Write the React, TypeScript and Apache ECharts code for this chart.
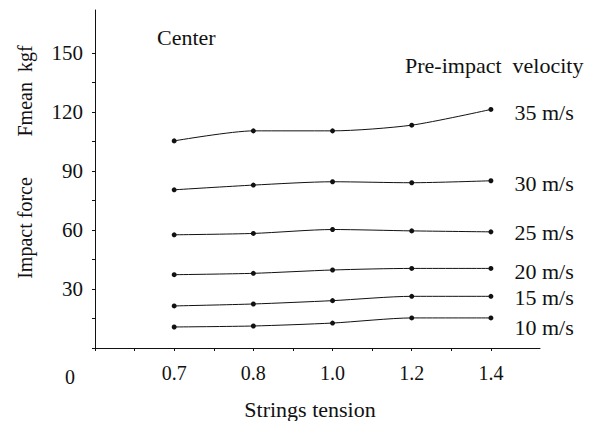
import React, { useEffect, useRef } from "react";
import * as echarts from "echarts";

const tensions = ["0.7", "0.8", "1.0", "1.2", "1.4"];
const velocities = ["35 m/s", "30 m/s", "25 m/s", "20 m/s", "15 m/s", "10 m/s"];
const v35 = [105.4, 110.5, 110.5, 113.4, 121.4];
const v30 = [80.5, 82.9, 84.6, 84.1, 85.1];
const v25 = [57.6, 58.3, 60.3, 59.6, 59.1];
const v20 = [37.3, 38.0, 39.7, 40.5, 40.5];
const v15 = [21.4, 22.4, 24.1, 26.3, 26.3];
const v10 = [10.7, 11.2, 12.7, 15.3, 15.3];
const seriesValues = [v35, v30, v25, v20, v15, v10];
const labelDy = [3, 3, 1, 3, 1, 10];
const yTicks = [0, 15, 30, 45, 60, 75, 90, 105, 120, 135, 150];
const yLabels = [30, 60, 90, 120, 150];

const FONT = "Liberation Serif";
const INK = "#111";

export default function App() {
  const ref = useRef<HTMLDivElement>(null);
  useEffect(() => {
    if (!ref.current) return;
    const chart = echarts.init(ref.current, undefined, { renderer: "svg" });
    const pos = (i: number) => (i + 1) * 2;
    const xTickVals = [0, 1, 2, 3, 4, 5, 6, 7, 8, 9, 10];
    const xLabelVals = [0, ...tensions.map((_, i) => pos(i))];
    const txt = (extra: any, size = 22) => ({ fill: INK, fontFamily: FONT, fontSize: size, ...extra });
    const series = seriesValues.map((vals, s) => ({
      type: "line",
      name: velocities[s],
      smooth: 0.25,
      symbol: "circle",
      symbolSize: 5,
      lineStyle: { color: INK, width: 1 },
      itemStyle: { color: INK },
      label: { show: false },
      data: vals.map((v, i) => ({
        value: [pos(i), v],
        label:
          i === vals.length - 1
            ? {
                show: true,
                position: "right",
                distance: 21,
                offset: [0, labelDy[s]],
                formatter: velocities[s],
                color: INK,
                fontFamily: FONT,
                fontSize: 22,
              }
            : { show: false },
      })),
    }));
    chart.setOption({
      animation: false,
      backgroundColor: "#fff",
      grid: { left: 95, top: 10, right: 54, bottom: 73, containLabel: false },
      xAxis: {
        type: "value",
        min: 0,
        max: 11.24,
        axisLine: { show: true, lineStyle: { color: INK, width: 1 } },
        axisTick: { show: true, customValues: xTickVals, length: 3, lineStyle: { color: INK } },
        splitLine: { show: false },
        axisLabel: {
          customValues: xLabelVals,
          margin: 15,
          color: INK,
          fontFamily: FONT,
          fontSize: 20,
          formatter: (v: number) => {
            if (v === 0) return "{o|0}";
            const idx = v / 2 - 1;
            return tensions[idx] ?? "";
          },
          rich: { o: { padding: [4, 50, 0, 0], fontFamily: FONT, fontSize: 20, color: INK } },
        },
      },
      yAxis: {
        type: "value",
        min: 0,
        max: 172,
        axisLine: { show: true, lineStyle: { color: INK, width: 1 } },
        axisTick: { show: true, customValues: yTicks, length: 3, lineStyle: { color: INK } },
        splitLine: { show: false },
        axisLabel: {
          customValues: yLabels,
          margin: 12,
          color: INK,
          fontFamily: FONT,
          fontSize: 21,
        },
      },
      graphic: [
        { type: "text", x: 157, y: 37, style: txt({ text: "Center", verticalAlign: "middle" }) },
        { type: "text", x: 405, y: 65, style: txt({ text: "Pre-impact  velocity", verticalAlign: "middle" }) },
        {
          type: "text",
          x: 25,
          y: 228,
          rotation: Math.PI / 2,
          style: txt({ text: "Impact force", align: "center", verticalAlign: "middle" }, 20),
        },
        {
          type: "text",
          x: 25,
          y: 91,
          rotation: Math.PI / 2,
          style: txt({ text: "Fmean  kgf", align: "center", verticalAlign: "middle" }, 20),
        },
        {
          type: "text",
          x: 310,
          y: 409,
          style: txt({ text: "Strings tension", align: "center", verticalAlign: "middle" }),
        },
      ],
      series,
    });
    return () => chart.dispose();
  }, []);
  return <div ref={ref} style={{ width: 594, height: 421, position: "absolute", left: 0, top: 0 }} />;
}
